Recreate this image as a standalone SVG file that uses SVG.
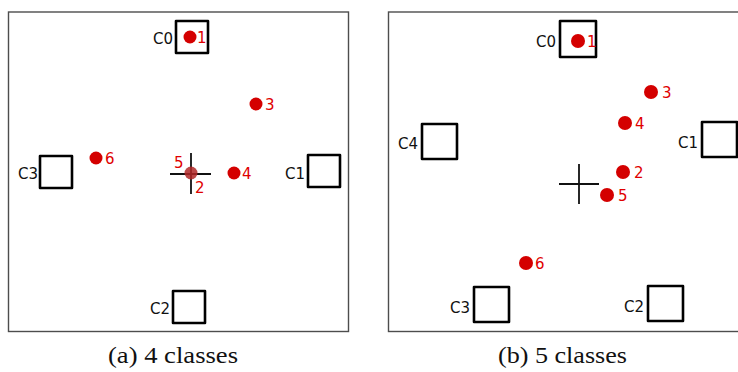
<svg xmlns="http://www.w3.org/2000/svg" width="738" height="372" viewBox="0 0 738 372">
  <style>
    .frame { fill: none; stroke: #4d4d4d; stroke-width: 1.4; }
    .cls rect { fill: #ffffff; stroke: #000000; stroke-width: 2.6; stroke-linejoin: round; }
    .cls text { font-family: "DejaVu Sans", sans-serif; font-size: 15px; fill: #111111; text-anchor: end; }
    .pt circle { fill: #d40000; }
    .pt text { font-family: "DejaVu Sans", sans-serif; font-size: 15px; fill: #e00000; }
    .cross { stroke: #111111; stroke-width: 1.8; }
    .caption { font-family: "Liberation Serif", "DejaVu Serif", serif; font-size: 23px; fill: #111111; }
  </style>

  <!-- Panel (a): 4 classes -->
  <g id="panel-a">
    <rect class="frame" x="8.5" y="12" width="340" height="319.5"/>
    <g id="a-C0" class="cls"><rect x="176" y="21" width="32" height="32"/><text x="173" y="44">C0</text></g>
    <g id="a-C1" class="cls"><rect x="308" y="155" width="32" height="32"/><text x="305" y="179">C1</text></g>
    <g id="a-C2" class="cls"><rect x="173" y="291" width="32" height="32"/><text x="170" y="314">C2</text></g>
    <g id="a-C3" class="cls"><rect x="40" y="156" width="32" height="32"/><text x="38" y="179">C3</text></g>
    <g id="a-cross" class="cross"><line x1="170" y1="174" x2="211" y2="174"/><line x1="191" y1="153" x2="191" y2="194"/></g>
    <g id="a-p1" class="pt"><circle cx="190" cy="37" r="6.5"/><text x="197" y="43">1</text></g>
    <g id="a-p3" class="pt"><circle cx="256" cy="104" r="6.5"/><text x="265" y="110">3</text></g>
    <g id="a-p4" class="pt"><circle cx="234" cy="173" r="6.5"/><text x="242" y="179">4</text></g>
    <g id="a-p6" class="pt"><circle cx="96" cy="158" r="6.5"/><text x="105" y="164">6</text></g>
    <g id="a-p25" class="pt"><circle cx="191" cy="173" r="6.5" style="fill:#b02828;opacity:0.85"/><text x="174" y="168">5</text><text x="195" y="193">2</text></g>
    <text class="caption" x="108" y="363" textLength="130" lengthAdjust="spacingAndGlyphs">(a) 4 classes</text>
  </g>

  <!-- Panel (b): 5 classes -->
  <g id="panel-b">
    <rect class="frame" x="388.5" y="12" width="400" height="319.5"/>
    <g id="b-C0" class="cls"><rect x="560" y="21" width="36" height="36"/><text x="556" y="47">C0</text></g>
    <g id="b-C1" class="cls"><rect x="702" y="122" width="35" height="35"/><text x="698" y="148">C1</text></g>
    <g id="b-C2" class="cls"><rect x="648" y="286" width="35" height="35"/><text x="644" y="312">C2</text></g>
    <g id="b-C3" class="cls"><rect x="474" y="287" width="35" height="35"/><text x="470" y="313">C3</text></g>
    <g id="b-C4" class="cls"><rect x="422" y="124" width="35" height="35"/><text x="418" y="149">C4</text></g>
    <g id="b-cross" class="cross"><line x1="559" y1="184" x2="599" y2="184"/><line x1="579" y1="164" x2="579" y2="204"/></g>
    <g id="b-p1" class="pt"><circle cx="578" cy="41" r="7"/><text x="587" y="47">1</text></g>
    <g id="b-p3" class="pt"><circle cx="651" cy="92" r="7"/><text x="662" y="98">3</text></g>
    <g id="b-p4" class="pt"><circle cx="625" cy="123" r="7"/><text x="635" y="129">4</text></g>
    <g id="b-p2" class="pt"><circle cx="623" cy="172" r="7"/><text x="634" y="178">2</text></g>
    <g id="b-p5" class="pt"><circle cx="607" cy="195" r="7"/><text x="618" y="201">5</text></g>
    <g id="b-p6" class="pt"><circle cx="526" cy="263" r="7"/><text x="535" y="269">6</text></g>
    <text class="caption" x="498" y="363" textLength="129" lengthAdjust="spacingAndGlyphs">(b) 5 classes</text>
  </g>
</svg>
